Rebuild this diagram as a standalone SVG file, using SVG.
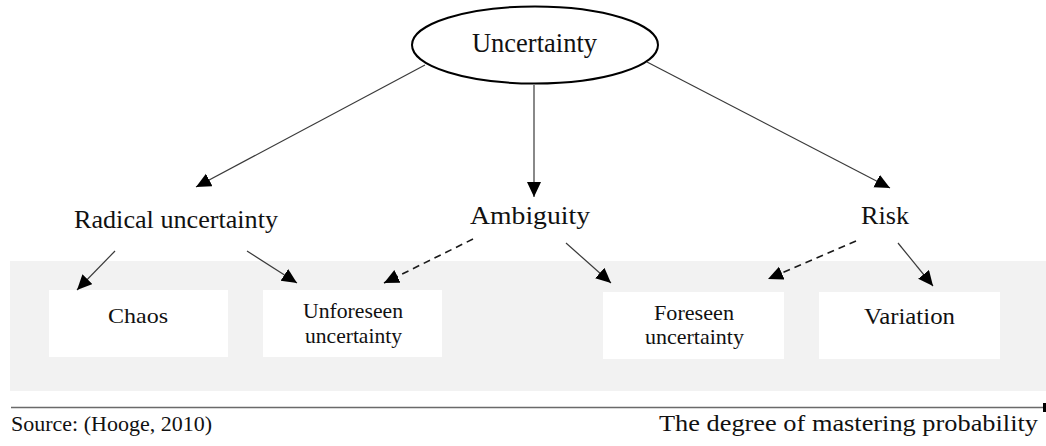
<svg xmlns="http://www.w3.org/2000/svg" width="1046" height="446" viewBox="0 0 1046 446">
  <style>
    text { font-family: "Liberation Serif", serif; fill: #111; }
    .lbl { font-size: 25px; }
    .box-t { font-size: 22px; }
    .box { fill: #ffffff; }
    .edge { stroke: #3a3a3a; stroke-width: 1.2; fill: none; }
    .dash { stroke: #1a1a1a; stroke-width: 1.6; stroke-dasharray: 7 5; fill: none; }
  </style>
  <defs>
    <marker id="head" markerUnits="userSpaceOnUse" markerWidth="16" markerHeight="15" refX="15" refY="7" orient="auto">
      <path d="M0,0 L15,7 L0,14 z" fill="#000"/>
    </marker>
  </defs>

  <!-- shaded band of outcome categories -->
  <rect id="band" x="10" y="261" width="1036" height="130" fill="#f2f2f2"/>

  <!-- root node -->
  <g id="node-uncertainty">
    <ellipse cx="535" cy="45" rx="123" ry="38.5" fill="#fff" stroke="#000" stroke-width="2"/>
    <text x="472" y="52" font-size="27" textLength="125" lengthAdjust="spacingAndGlyphs">Uncertainty</text>
  </g>

  <!-- middle level -->
  <g id="node-radical">
    <text class="lbl" x="74" y="228" textLength="204" lengthAdjust="spacingAndGlyphs">Radical uncertainty</text>
  </g>
  <g id="node-ambiguity">
    <text class="lbl" x="470" y="224" textLength="120" lengthAdjust="spacingAndGlyphs">Ambiguity</text>
  </g>
  <g id="node-risk">
    <text class="lbl" x="861" y="224" textLength="48" lengthAdjust="spacingAndGlyphs">Risk</text>
  </g>

  <!-- outcome boxes -->
  <g id="node-chaos">
    <rect class="box" x="49" y="290" width="179" height="67"/>
    <text class="box-t" x="108" y="322.5" textLength="60" lengthAdjust="spacingAndGlyphs">Chaos</text>
  </g>
  <g id="node-unforeseen">
    <rect class="box" x="263" y="290" width="179" height="67"/>
    <text class="box-t" x="303" y="318" textLength="100" lengthAdjust="spacingAndGlyphs">Unforeseen</text>
    <text class="box-t" x="305" y="343" textLength="97" lengthAdjust="spacingAndGlyphs">uncertainty</text>
  </g>
  <g id="node-foreseen">
    <rect class="box" x="603" y="292" width="181" height="67"/>
    <text class="box-t" x="654" y="320" textLength="80" lengthAdjust="spacingAndGlyphs">Foreseen</text>
    <text class="box-t" x="645" y="344" textLength="99" lengthAdjust="spacingAndGlyphs">uncertainty</text>
  </g>
  <g id="node-variation">
    <rect class="box" x="819" y="292" width="181" height="67"/>
    <text x="864" y="324" font-size="24" textLength="91" lengthAdjust="spacingAndGlyphs">Variation</text>
  </g>

  <!-- connectors -->
  <g id="connectors">
    <line class="edge" x1="425" y1="65" x2="196" y2="187" marker-end="url(#head)"/>
    <line class="edge" x1="534" y1="85" x2="534" y2="197" marker-end="url(#head)"/>
    <line class="edge" x1="647" y1="62" x2="890" y2="188" marker-end="url(#head)"/>
    <line class="edge" x1="115" y1="251" x2="77" y2="290" marker-end="url(#head)"/>
    <line class="edge" x1="247" y1="251" x2="297" y2="283" marker-end="url(#head)"/>
    <line class="dash" x1="473" y1="239" x2="384" y2="283" marker-end="url(#head)"/>
    <line class="edge" x1="566" y1="243" x2="611" y2="283" marker-end="url(#head)"/>
    <line class="dash" x1="856" y1="241" x2="768" y2="279" marker-end="url(#head)"/>
    <line class="edge" x1="898" y1="243" x2="933" y2="286" marker-end="url(#head)"/>
  </g>

  <!-- probability axis -->
  <g id="axis">
    <line x1="11" y1="407.5" x2="1043" y2="407.5" stroke="#6a6a6a" stroke-width="1.3"/>
    <rect x="1043" y="403" width="3" height="9" fill="#000"/>
    <text x="659" y="431" font-size="24" textLength="379" lengthAdjust="spacingAndGlyphs">The degree of mastering probability</text>
  </g>

  <text id="source" x="11" y="431" font-size="22" textLength="201" lengthAdjust="spacingAndGlyphs">Source: (Hooge, 2010)</text>
</svg>
